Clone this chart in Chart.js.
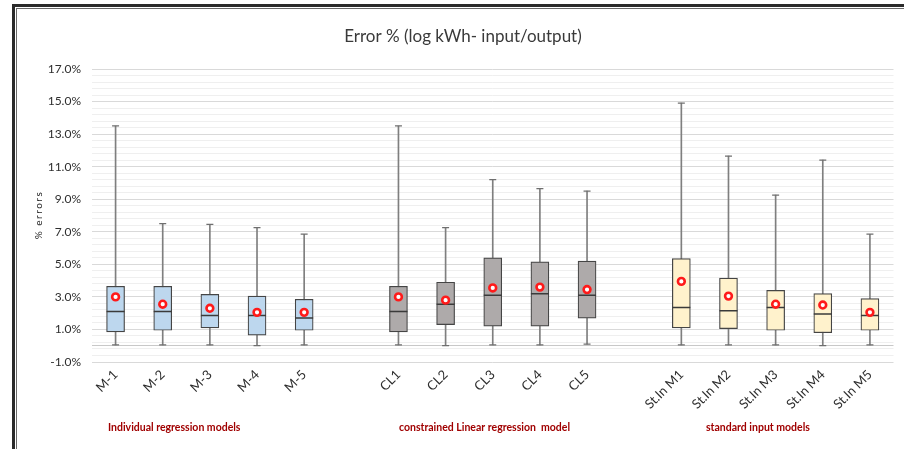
<!DOCTYPE html>
<html>
<head>
<meta charset="utf-8">
<script src="https://cdn.jsdelivr.net/npm/chart.js@4.4.1/dist/chart.umd.min.js"></script>
<style>
  html, body { margin: 0; padding: 0; background: #fff; }
  #wrap { position: relative; width: 904px; height: 449px; overflow: hidden; }
  #c { position: absolute; left: 0; top: 0; }
  #frameOuter { position: absolute; left: 12px; top: 4px; width: 900px; height: 460px;
    border-left: 3px solid #2b2b2b; border-top: 3px solid #2b2b2b; pointer-events: none; }
  #frameInner { position: absolute; left: 16px; top: 8px; width: 900px; height: 460px;
    border-left: 1px solid #6a6a6a; border-top: 1px solid #6a6a6a; pointer-events: none; }
</style>
</head>
<body>
<div id="wrap">
  <canvas id="c" width="904" height="449"></canvas>
  <div id="frameOuter"></div>
  <div id="frameInner"></div>
</div>
<script>
// ---------------- DATA ----------------
const categories = ['M-1','M-2','M-3','M-4','M-5','',
                    'CL1','CL2','CL3','CL4','CL5','',
                    'St.In M1','St.In M2','St.In M3','St.In M4','St.In M5'];
const whiskerMin = [0.05,0.05,0.05,0.00,0.05,null, 0.05,0.00,0.05,0.05,0.10,null, 0.05,0.05,0.05,0.00,0.05];
const q1Values   = [0.85,0.95,1.10,0.65,0.95,null, 0.85,1.30,1.20,1.20,1.70,null, 1.10,1.05,0.95,0.80,0.95];
const medians    = [2.10,2.10,1.85,1.85,1.70,null, 2.10,2.55,3.10,3.20,3.10,null, 2.35,2.15,2.35,1.95,1.85];
const q3Values   = [3.65,3.65,3.15,3.05,2.85,null, 3.65,3.90,5.40,5.15,5.20,null, 5.35,4.15,3.40,3.20,2.90];
const whiskerMax = [13.5,7.50,7.45,7.25,6.85,null, 13.5,7.25,10.2,9.65,9.50,null, 14.9,11.65,9.25,11.4,6.85];
const means      = [3.00,2.55,2.30,2.05,2.05,null, 3.00,2.80,3.55,3.60,3.45,null, 3.95,3.05,2.55,2.50,2.05];
const yTickValues = [-1, 1, 3, 5, 7, 9, 11, 13, 15, 17];
const yTickLabels = ['-1.0%','1.0%','3.0%','5.0%','7.0%','9.0%','11.0%','13.0%','15.0%','17.0%'];
const chartTitle = 'Error % (log kWh- input/output)';
const yAxisTitle = '% errors';
const groupLabels = ['Individual regression models', 'constrained Linear regression  model', 'standard input models'];
const groupOfCategory = [0,0,0,0,0,null, 1,1,1,1,1,null, 2,2,2,2,2];

// ---------------- STYLE ----------------
const groupFill = ['#BDD7EE', '#AEAAAA', '#FFF2CC'];
const boxFill = groupOfCategory.map(g => g === null ? 'rgba(0,0,0,0)' : groupFill[g]);
const minorStep = 0.4;

const boxes = q1Values.map((v, i) => v === null ? null : [v, q3Values[i]]);
const whiskers = whiskerMin.map((v, i) => v === null ? null : [v, whiskerMax[i]]);

const textPlugin = {
  id: 'texts',
  afterDraw(chart) {
    const ctx = chart.ctx;
    ctx.save();
    // title
    ctx.fillStyle = '#3a3a3a';
    ctx.font = '17px Lato';
    ctx.textAlign = 'center';
    ctx.textBaseline = 'middle';
    ctx.fillText(chartTitle, 463, 37, 243);
    // y axis title
    ctx.save();
    ctx.translate(39, 215);
    ctx.rotate(-Math.PI / 2);
    ctx.font = '10px Lato';
    try { ctx.letterSpacing = '1.5px'; } catch (e) {}
    ctx.fillStyle = '#222222';
    ctx.fillText(yAxisTitle, 0, 0);
    ctx.restore();
    // group labels
    ctx.font = 'bold 10.5px Lato';
    ctx.fillStyle = '#A00000';
    ctx.textAlign = 'left';
    ctx.textBaseline = 'middle';
    const gx = [108, 399, 706];
    const gw = [137, 176, 106];
    groupLabels.forEach((t, i) => ctx.fillText(t, gx[i], 428, gw[i]));
    ctx.restore();
  }
};

new Chart(document.getElementById('c'), {
  type: 'bar',
  data: {
    labels: categories,
    datasets: [
      {
        type: 'line', label: 'mean', data: means, showLine: false,
        pointStyle: 'circle', pointRadius: 3.4, pointHoverRadius: 3.4,
        pointBackgroundColor: '#ffffff', pointBorderColor: '#ff1a1a', pointBorderWidth: 2.6,
        order: 0
      },
      {
        type: 'line', label: 'median', data: medians, showLine: false,
        pointStyle: 'line', pointRadius: 9, pointHoverRadius: 9,
        pointBorderColor: '#3a3a3a', pointBorderWidth: 1.5,
        order: 1
      },
      {
        type: 'bar', label: 'box', data: boxes, grouped: false,
        barThickness: 18, backgroundColor: boxFill, borderColor: '#454545',
        borderWidth: 1.2, borderSkipped: false,
        order: 2
      },
      {
        type: 'line', label: 'capMax', data: whiskerMax, showLine: false,
        pointStyle: 'line', pointRadius: 3.5, pointHoverRadius: 3.5,
        pointBorderColor: '#6f6f6f', pointBorderWidth: 1.2,
        order: 3
      },
      {
        type: 'line', label: 'capMin', data: whiskerMin, showLine: false,
        pointStyle: 'line', pointRadius: 3.5, pointHoverRadius: 3.5,
        pointBorderColor: '#6f6f6f', pointBorderWidth: 1.2,
        order: 3
      },
      {
        type: 'bar', label: 'whisker', data: whiskers, grouped: false,
        barThickness: 1, backgroundColor: '#7f7f7f', borderWidth: 0,
        order: 4
      }
    ]
  },
  options: {
    responsive: false,
    animation: false,
    events: [],
    layout: { padding: { top: 69, right: 8, left: 0, bottom: 0 } },
    plugins: { legend: { display: false }, title: { display: false }, tooltip: { enabled: false } },
    scales: {
      x: {
        offset: true,
        grid: { display: false, drawTicks: false },
        border: { display: false },
        ticks: {
          autoSkip: false, maxRotation: 45, minRotation: 45, padding: 5,
          color: '#2e2e2e', font: { family: 'Lato', size: 13 }
        },
        afterFit(scale) { scale.height = 87; scale.paddingLeft = 0; scale.paddingRight = 0; }
      },
      y: {
        min: -1, max: 17,
        afterBuildTicks(scale) {
          const vals = [];
          const n = Math.round((scale.max - scale.min) / minorStep);
          for (let k = 0; k <= n; k++) vals.push(Math.round((scale.min + minorStep * k) * 10) / 10);
          if (!vals.includes(0)) vals.push(0);
          vals.sort((a, b) => a - b);
          scale.ticks = vals.map(v => ({ value: v }));
        },
        grid: {
          drawTicks: false,
          color(ctx) {
            const v = ctx.tick ? ctx.tick.value : null;
            if (v === 0) return '#c8c8c8';
            if (yTickValues.some(t => Math.abs(t - v) < 1e-6)) return '#d9d9d9';
            return '#efefef';
          },
          lineWidth: 1
        },
        border: { display: false },
        ticks: {
          autoSkip: false, padding: 11, color: '#2e2e2e',
          font: { family: 'Lato', size: 12 },
          callback(value) {
            const i = yTickValues.findIndex(t => Math.abs(t - value) < 1e-6);
            return i >= 0 ? yTickLabels[i] : '';
          }
        },
        afterFit(scale) { scale.width = 92; scale.paddingTop = 0; scale.paddingBottom = 0; }
      }
    }
  },
  plugins: [textPlugin]
});
</script>
</body>
</html>
